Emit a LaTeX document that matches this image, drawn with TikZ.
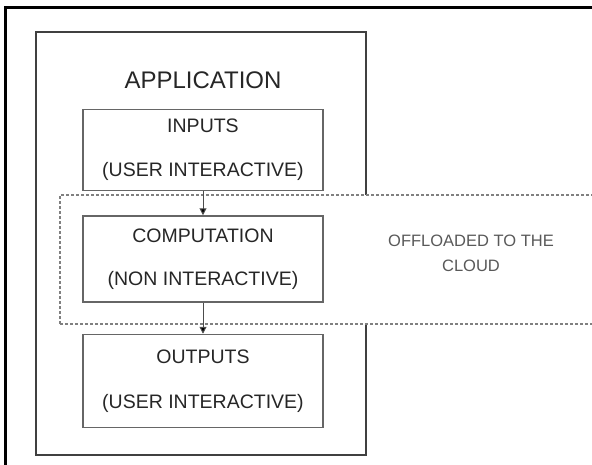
\documentclass[tikz,border=0pt]{standalone}
\usepackage{fontspec}
\setmainfont{Liberation Sans}
\usetikzlibrary{arrows.meta}

\begin{document}
\begin{tikzpicture}[x=1pt,y=-1pt,>={Triangle[length=7pt,width=7pt,fill=black]},
                    frame/.style={line width=3pt,black},
                    app box/.style={draw=black!75,line width=2.6pt},
                    cloud box/.style={draw=black!50,dash pattern=on 3pt off 2pt,line width=1.4pt,fill=white},
                    stage node/.style={draw=black!60,line width=1.5pt,fill=white,minimum width=240pt,
                                       align=center,inner sep=0pt,text=black!85,font=\fontsize{19.5}{23}\selectfont},
                    link/.style={->,draw=black!70,line width=1pt}]

  \useasboundingbox (0,0) rectangle (592,464);
  \draw[frame] (5,470) -- (5,7) -- (600,7);

  \node[app box,minimum width=330pt,minimum height=423pt] (app) at (201,243.5) {};
  \node[font=\fontsize{24}{28}\selectfont,text=black!85] (apptitle) at (203,80) {APPLICATION};

  \node[cloud box,minimum width=560pt,minimum height=129pt] (cloud) at (340,259.5) {};
  \node[align=center,text=black!65,font=\fontsize{16.5}{25}\selectfont] (cloudtext) at (471,253) {OFFLOADED TO THE\\CLOUD};

  \node[stage node,minimum height=81pt] (inputs) at (203,150) {INPUTS\\[21pt](USER INTERACTIVE)};
  \node[stage node,minimum height=86pt] (comp) at (203,259) {COMPUTATION\\[20pt](NON INTERACTIVE)};
  \node[stage node,minimum height=93pt] (outputs) at (203,381) {OUTPUTS\\[22pt](USER INTERACTIVE)};

  \path[link]
    (inputs) edge (comp)
    (comp) edge (outputs);
\end{tikzpicture}
\end{document}
